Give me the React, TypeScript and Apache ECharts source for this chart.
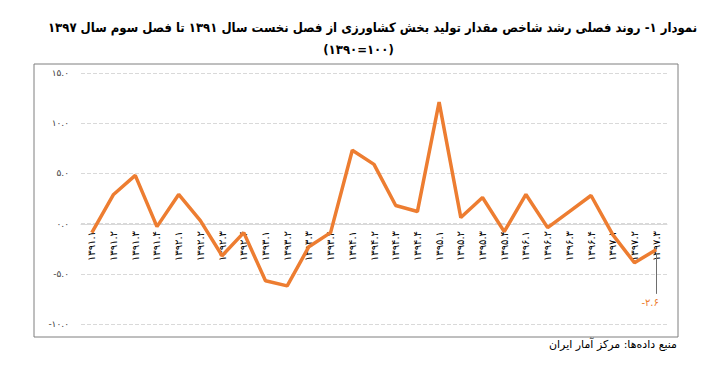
import React, { useEffect, useRef } from "react";
import * as echarts from "echarts";

const categories = [
  "۱۳۹۱.۱", "۱۳۹۱.۲", "۱۳۹۱.۳", "۱۳۹۱.۴",
  "۱۳۹۲.۱", "۱۳۹۲.۲", "۱۳۹۲.۳", "۱۳۹۲.۴",
  "۱۳۹۳.۱", "۱۳۹۳.۲", "۱۳۹۳.۳", "۱۳۹۳.۴",
  "۱۳۹۴.۱", "۱۳۹۴.۲", "۱۳۹۴.۳", "۱۳۹۴.۴",
  "۱۳۹۵.۱", "۱۳۹۵.۲", "۱۳۹۵.۳", "۱۳۹۵.۴",
  "۱۳۹۶.۱", "۱۳۹۶.۲", "۱۳۹۶.۳", "۱۳۹۶.۴",
  "۱۳۹۷.۱", "۱۳۹۷.۲", "۱۳۹۷.۳",
];

const growth = [
  -0.9, 2.9, 4.8, -0.3,
  2.9, 0.3, -3.2, -0.9,
  -5.7, -6.2, -2.3, -0.9,
  7.3, 5.9, 1.8, 1.2,
  12.1, 0.6, 2.6, -0.8,
  2.9, -0.4, 1.2, 2.8,
  -1.1, -3.9, -2.6,
];

const titleLine1 =
  "نمودار ۱- روند فصلی رشد شاخص مقدار تولید بخش کشاورزی از فصل نخست سال ۱۳۹۱ تا فصل سوم سال ۱۳۹۷";
const titleLine2 = "(۱۳۹۰=۱۰۰)";
const sourceText = "منبع داده‌ها: مرکز آمار ایران";
const lastLabel = "-۲.۶";

const faDigits = "۰۱۲۳۴۵۶۷۸۹";
const toFa = (s: string) => s.replace(/[0-9]/g, (d) => faDigits[Number(d)]);

const FONT = "DejaVu Sans";
const FONT_C = "DejaVu Sans Condensed";

export default function App() {
  const ref = useRef<HTMLDivElement>(null);
  useEffect(() => {
    document.body.style.margin = "0";
    if (!ref.current) return;
    const chart = echarts.init(ref.current, undefined, { renderer: "svg" });
    const lastIdx = growth.length - 1;
    const data = growth.map((v, i) =>
      i === lastIdx
        ? {
            value: v,
            symbol: "circle",
            symbolSize: 1,
            label: {
              show: true,
              position: "bottom",
              formatter: lastLabel,
              color: "#ED7D31",
              fontSize: 10,
              fontFamily: FONT,
            },
          }
        : { value: v, symbol: "none" }
    );
    chart.setOption({
      animation: false,
      backgroundColor: "#ffffff",
      graphic: [
        {
          type: "rect",
          shape: { x: 34, y: 64, width: 644, height: 273 },
          style: { fill: "none", stroke: "#7f7f7f", lineWidth: 1 },
          silent: true,
        },
        {
          type: "text",
          right: 20,
          top: 21,
          style: {
            text: titleLine1,
            font: `bold 13px "${FONT_C}", "${FONT}"`,
            fill: "#000",
          },
        },
        {
          type: "text",
          left: "center",
          top: 43,
          style: {
            text: titleLine2,
            font: `bold 13px "${FONT_C}", "${FONT}"`,
            fill: "#000",
          },
        },
        {
          type: "text",
          right: 40,
          top: 339,
          style: {
            text: sourceText,
            font: `11px "${FONT}"`,
            fill: "#000",
          },
        },
      ],
      grid: { left: 81, right: 50, top: 73, bottom: 65 },
      xAxis: {
        type: "category",
        data: categories,
        boundaryGap: true,
        offset: -100,
        axisLine: { show: true, onZero: false, lineStyle: { color: "#d9d9d9", width: 1 } },
        axisTick: { show: false },
        axisLabel: {
          rotate: 90,
          interval: 0,
          margin: 7,
          fontSize: 10,
          fontFamily: FONT,
          color: "#000",
        },
        splitLine: { show: false },
      },
      yAxis: {
        type: "value",
        min: -10,
        max: 15,
        interval: 5,
        axisLine: { show: false },
        axisTick: { show: false },
        axisLabel: {
          margin: 12,
          fontSize: 9,
          fontFamily: FONT,
          color: "#404040",
          formatter: (v: number) => toFa(v.toFixed(1)),
        },
        splitLine: { show: true, lineStyle: { color: "#d9d9d9", type: "dashed", width: 1 } },
      },
      series: [
        {
          type: "line",
          data,
          showSymbol: true,
          z: 3,
          lineStyle: { color: "#ED7D31", width: 3.5 },
          itemStyle: { color: "#ED7D31" },
          label: { show: false },
          labelLayout: { dy: 42, dx: -6 },
          markLine: {
            silent: true,
            symbol: ["none", "none"],
            label: { show: false },
            lineStyle: { color: "#6e6e6e", width: 1, type: "solid", opacity: 1 },
            data: [
              [
                { coord: [lastIdx, growth[lastIdx] - 0.4] },
                { coord: [lastIdx, growth[lastIdx] - 4.4] },
              ],
            ],
          },
        },
      ],
    });
    return () => chart.dispose();
  }, []);
  return <div ref={ref} style={{ width: 717, height: 389 }} />;
}
